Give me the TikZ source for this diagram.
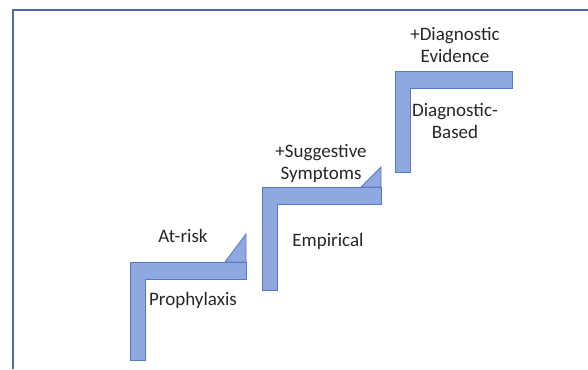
\documentclass[tikz,border=0pt]{standalone}
\usepackage{fontspec}
\setmainfont{Carlito}
\definecolor{stepfill}{HTML}{8FA9DE}
\definecolor{stepline}{HTML}{5577CC}
\definecolor{framecol}{HTML}{4E6AA8}
\tikzset{
  stepshape/.style={fill=stepfill, draw=stepline, line width=0.9pt, line join=miter},
  lbl/.style={font=\fontsize{19}{22}\selectfont, align=center, inner sep=0pt, text=black!85}
}
\begin{document}
\begin{tikzpicture}[x=1pt,y=-1pt]
\useasboundingbox (0,0) rectangle (588,369);
% frame
\draw[framecol, line width=2.4pt] (13,369) -- (13,10) -- (588,10);
% step 1
\draw[stepshape] (130,262) -- (246,262) -- (246,279) -- (145,279) -- (145,360) -- (130,360) -- cycle;
\draw[stepshape] (225,262) -- (246,234) -- (246,262) -- cycle;
% step 2
\draw[stepshape] (262,187) -- (381,187) -- (381,204) -- (277,204) -- (277,290) -- (262,290) -- cycle;
\draw[stepshape] (361,187) -- (381,167) -- (381,187) -- cycle;
% step 3
\draw[stepshape] (395,71) -- (512,71) -- (512,88) -- (410,88) -- (410,172) -- (395,172) -- cycle;
% labels
\node[lbl] (atrisk) at (183,236) {At-risk};
\node[lbl] (proph) at (193,300) {Prophylaxis};
\node[lbl] (sugg) at (321,163) {+Suggestive\\Symptoms};
\node[lbl] (emp) at (328,241) {Empirical};
\node[lbl] (diagev) at (455,45) {+Diagnostic\\Evidence};
\node[lbl] (diagb) at (455,121) {Diagnostic-\\Based};
\end{tikzpicture}
\end{document}
